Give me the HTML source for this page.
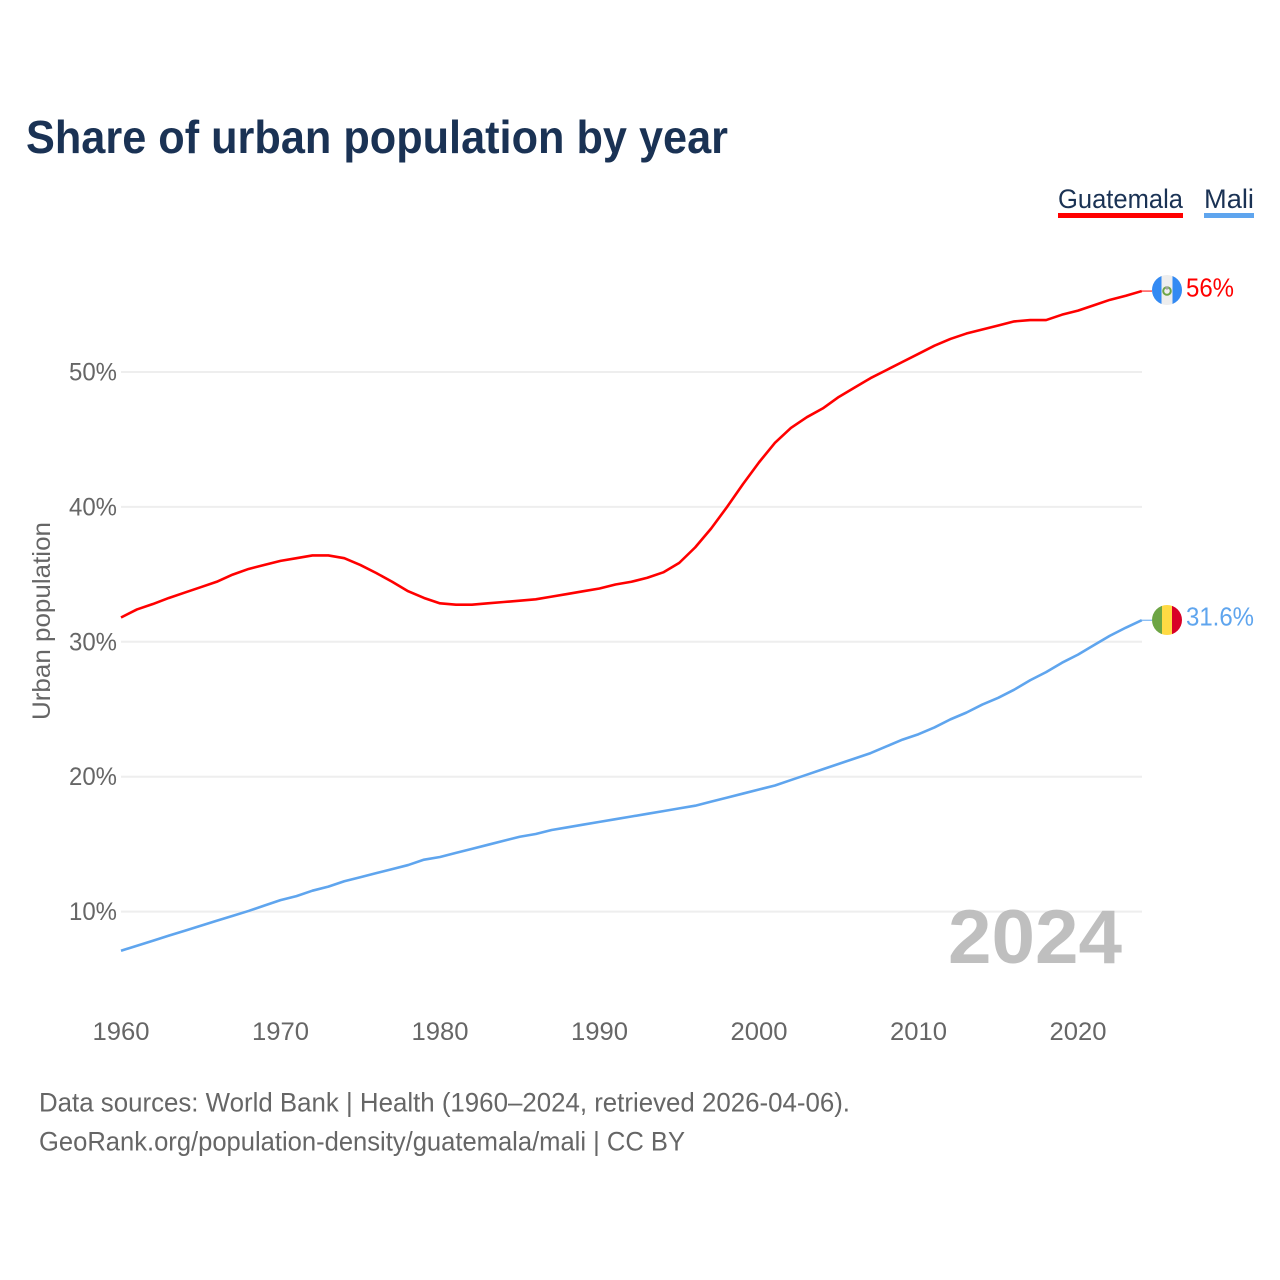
<!DOCTYPE html>
<html lang="en">
<head>
<meta charset="utf-8">
<title>Share of urban population by year</title>
<style>
html,body{margin:0;padding:0;background:#fff;width:1280px;height:1280px;overflow:hidden}
svg{display:block;font-family:"Liberation Sans",sans-serif}
</style>
</head>
<body>
<svg id="chart" xmlns="http://www.w3.org/2000/svg" width="1280" height="1280" viewBox="0 0 1280 1280">
  <text x="26" y="153" font-size="46" font-weight="700" fill="#1a3254" textLength="702" lengthAdjust="spacingAndGlyphs">Share of urban population by year</text>

  <g id="grid"></g>
  <g id="yticks"></g>
  <g id="xticks"></g>

  <text transform="translate(50,720) rotate(-90)" font-size="25" fill="#666" textLength="198" lengthAdjust="spacingAndGlyphs">Urban population</text>

  <text x="948" y="963" font-size="76" font-weight="700" fill="#bfbfbf" textLength="174" lengthAdjust="spacingAndGlyphs">2024</text>

  <g id="series"></g>

  <g>
    <text x="1058" y="208" font-size="27" fill="#1a3254" textLength="125" lengthAdjust="spacingAndGlyphs">Guatemala</text>
    <rect x="1058" y="213" width="125" height="5" fill="#ff0000"/>
  </g>
  <g>
    <text x="1204" y="208" font-size="27" fill="#1a3254" textLength="50" lengthAdjust="spacingAndGlyphs">Mali</text>
    <rect x="1204" y="213" width="50" height="5" fill="#5fa5ee"/>
  </g>

  <defs>
    <clipPath id="flagA"><circle cx="1167" cy="290" r="15"/></clipPath>
    <clipPath id="flagB"><circle cx="1167" cy="620" r="15"/></clipPath>
  </defs>
  <g clip-path="url(#flagA)">
    <rect x="1152" y="275" width="30" height="30" fill="#eeeeee"/>
    <rect x="1152" y="275" width="9.5" height="30" fill="#338af3"/>
    <rect x="1172.5" y="275" width="9.5" height="30" fill="#338af3"/>
    <circle cx="1167" cy="291" r="3.8" fill="none" stroke="#6da544" stroke-width="2"/>
    <circle cx="1167" cy="288" r="1.6" fill="#a2a2a2"/>
  </g>
  <g clip-path="url(#flagB)">
    <rect x="1152" y="605" width="10" height="30" fill="#6da544"/>
    <rect x="1162" y="605" width="10" height="30" fill="#ffda44"/>
    <rect x="1172" y="605" width="10" height="30" fill="#d80027"/>
  </g>

  <text id="end-label-guatemala" x="1186" y="296.5" font-size="26" fill="#ff0000" textLength="48" lengthAdjust="spacingAndGlyphs"></text>
  <text id="end-label-mali" x="1186" y="625.5" font-size="26" fill="#5fa5ee" textLength="68" lengthAdjust="spacingAndGlyphs"></text>

  <text x="39" y="1111.5" font-size="27" fill="#666" textLength="811" lengthAdjust="spacingAndGlyphs">Data sources: World Bank | Health (1960–2024, retrieved 2026-04-06).</text>
  <text x="39" y="1150.5" font-size="27" fill="#666" textLength="646" lengthAdjust="spacingAndGlyphs">GeoRank.org/population-density/guatemala/mali | CC BY</text>
</svg>
<script>
const startYear = 1960;
const xTickYears = [1960, 1970, 1980, 1990, 2000, 2010, 2020];
const yTickValues = [10, 20, 30, 40, 50];
const guatemalaValues = [31.8,32.4,32.8,33.25,33.65,34.05,34.45,34.98,35.4,35.7,36.0,36.2,36.4,36.4,36.2,35.7,35.1,34.45,33.75,33.25,32.85,32.75,32.75,32.85,32.95,33.05,33.15,33.35,33.55,33.75,33.95,34.25,34.45,34.75,35.15,35.85,37.0,38.4,40.0,41.7,43.3,44.75,45.85,46.65,47.3,48.15,48.85,49.55,50.15,50.75,51.35,51.95,52.45,52.85,53.15,53.45,53.75,53.85,53.85,54.25,54.55,54.95,55.35,55.65,56.0];
const maliValues = [7.1,7.47,7.84,8.22,8.58,8.95,9.32,9.68,10.05,10.45,10.85,11.15,11.55,11.85,12.25,12.55,12.85,13.15,13.45,13.85,14.05,14.35,14.65,14.95,15.25,15.55,15.75,16.05,16.25,16.45,16.65,16.85,17.05,17.25,17.45,17.65,17.85,18.15,18.45,18.75,19.05,19.35,19.75,20.15,20.55,20.95,21.35,21.75,22.25,22.75,23.15,23.65,24.25,24.75,25.35,25.85,26.45,27.15,27.75,28.45,29.05,29.75,30.45,31.05,31.6];

const NS = 'http://www.w3.org/2000/svg';
const xScale = function (year) { return 121 + (year - 1960) * 15.95; };
const yScale = function (v) { return 1046.5 - v * 13.49; };
const formatPct = function (v) { return v + '%'; };

function make(tag, parentId) {
  const el = document.createElementNS(NS, tag);
  document.getElementById(parentId).appendChild(el);
  return el;
}

yTickValues.forEach(function (v) {
  const line = make('line', 'grid');
  
  
  line.setAttribute('x1', 121);
  line.setAttribute('x2', 1142);
  line.setAttribute('y1', yScale(v));
  line.setAttribute('y2', yScale(v));
  line.setAttribute('stroke', '#eeeeee');
  line.setAttribute('stroke-width', 2);

  const label = make('text', 'yticks');
  
  
  label.setAttribute('x', 69);
  label.setAttribute('y', yScale(v) + 8.5);
  label.setAttribute('font-size', 25);
  label.setAttribute('fill', '#666');
  label.setAttribute('textLength', 48);
  label.setAttribute('lengthAdjust', 'spacingAndGlyphs');
  label.textContent = formatPct(v);
});

xTickYears.forEach(function (year) {
  const label = make('text', 'xticks');
  
  
  label.setAttribute('x', xScale(year) - 28.5);
  label.setAttribute('y', 1040);
  label.setAttribute('font-size', 25);
  label.setAttribute('fill', '#666');
  label.setAttribute('textLength', 57);
  label.setAttribute('lengthAdjust', 'spacingAndGlyphs');
  label.textContent = String(year);
});

function drawSeries(values, color, name) {
  const d = values.map(function (v, i) {
    return (i ? 'L' : 'M') + xScale(startYear + i).toFixed(2) + ' ' + yScale(v).toFixed(2);
  }).join(' ');
  const path = make('path', 'series');
  
  
  path.setAttribute('d', d);
  path.setAttribute('fill', 'none');
  path.setAttribute('stroke', color);
  path.setAttribute('stroke-width', 2.6);
  path.setAttribute('stroke-linejoin', 'round');

  const last = values[values.length - 1];
  const lastYear = startYear + values.length - 1;
  const lead = make('line', 'series');
  
  
  lead.setAttribute('x1', xScale(lastYear));
  lead.setAttribute('x2', 1152);
  lead.setAttribute('y1', yScale(last));
  lead.setAttribute('y2', yScale(last));
  lead.setAttribute('stroke', color);
  lead.setAttribute('stroke-width', 1);
}

drawSeries(guatemalaValues, '#ff0000', 'guatemala-line');
drawSeries(maliValues, '#5fa5ee', 'mali-line');

document.getElementById('end-label-guatemala').textContent = formatPct(guatemalaValues[guatemalaValues.length - 1]);
document.getElementById('end-label-mali').textContent = formatPct(maliValues[maliValues.length - 1]);
</script>
</body>
</html>
